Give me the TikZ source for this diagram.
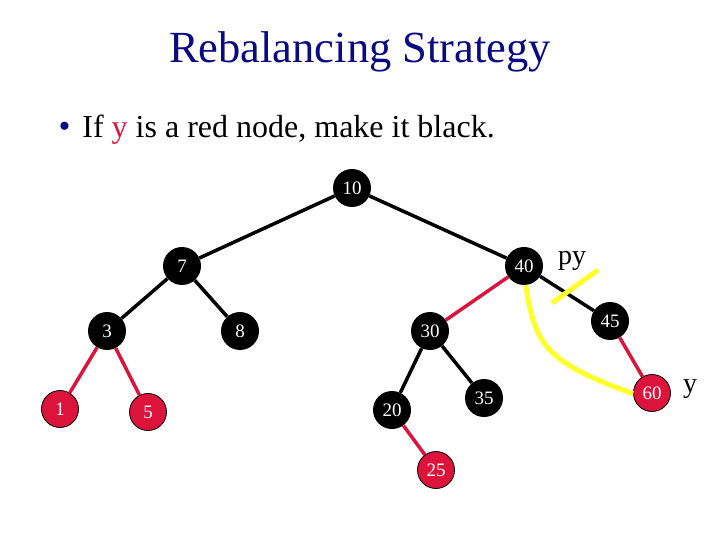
\documentclass[tikz,border=0pt]{standalone}
\usepackage{fontspec}
\setmainfont{Liberation Serif}
\usetikzlibrary{positioning}
\definecolor{rbred}{HTML}{DC143C}
\definecolor{rbnavy}{HTML}{0A0A82}
\definecolor{rbyel}{HTML}{FFFF2A}
\begin{document}
\begin{tikzpicture}[x=1pt,y=-1pt,every node/.style={font=\fontsize{19}{21}\selectfont},
  bk/.style={circle,fill=black,text=white,minimum size=38pt,inner sep=0pt},
  rd/.style={circle,fill=rbred,draw=black,line width=.8pt,text=white,minimum size=37pt,inner sep=0pt},
  bedge/.style={line width=3.5pt,black},
  redge/.style={line width=3.5pt,rbred},
  ymark/.style={line width=5pt,rbyel}]
\useasboundingbox (0,0) rectangle (720,540);
\node[text=rbnavy,font=\fontsize{44.5}{48}\selectfont] (title) at (360,52) {Rebalancing Strategy};
\node[anchor=base west,font=\fontsize{32}{36}\selectfont] (bul) at (55,138)
  {{\color{rbnavy}\fontsize{34}{36}\selectfont\textbullet}\hspace{12pt}If {\color{rbred}y} is a red node, make it black.};
% tree
\node[bk] (n10) at (352,188) {10};
\node[bk] (n7) at (182,266) {7};
\node[bk] (n40) at (524,266) {40};
\node[bk] (n3) at (107,331) {3};
\node[bk] (n8) at (240,331) {8};
\node[bk] (n30) at (430,331) {30};
\node[bk] (n45) at (610,321) {45};
\node[rd] (n1) at (60,409) {1};
\node[rd] (n5) at (148,412) {5};
\node[bk] (n20) at (392,410) {20};
\node[bk] (n35) at (484,398) {35};
\node[rd] (n60) at (652,393) {60};
\node[rd] (n25) at (436,470) {25};
\draw[bedge] (n10)--(n7);
\draw[bedge] (n10)--(n40);
\draw[bedge] (n7)--(n3);
\draw[bedge] (n7)--(n8);
\draw[redge] (n3)--(n1);
\draw[redge] (n3)--(n5);
\draw[redge] (n40)--(n30);
\draw[bedge] (n30)--(n20);
\draw[bedge] (n30)--(n35);
\draw[redge] (n20)--(n25);
\draw[bedge] (n40)--(n45);
\draw[redge] (n45)--(n60);
% labels
\node[font=\fontsize{28}{30}\selectfont] (py) at (572,261) {py};
\node[font=\fontsize{28}{30}\selectfont] (y) at (690,389) {y};
% yellow marks
\coordinate (s1) at (598,270);
\coordinate (s2) at (552,303);
\draw[ymark] (s1)--(s2);
\draw[ymark] (n40.-85) .. controls (535,345) and (545,362) .. (n60.182);
\end{tikzpicture}
\end{document}
